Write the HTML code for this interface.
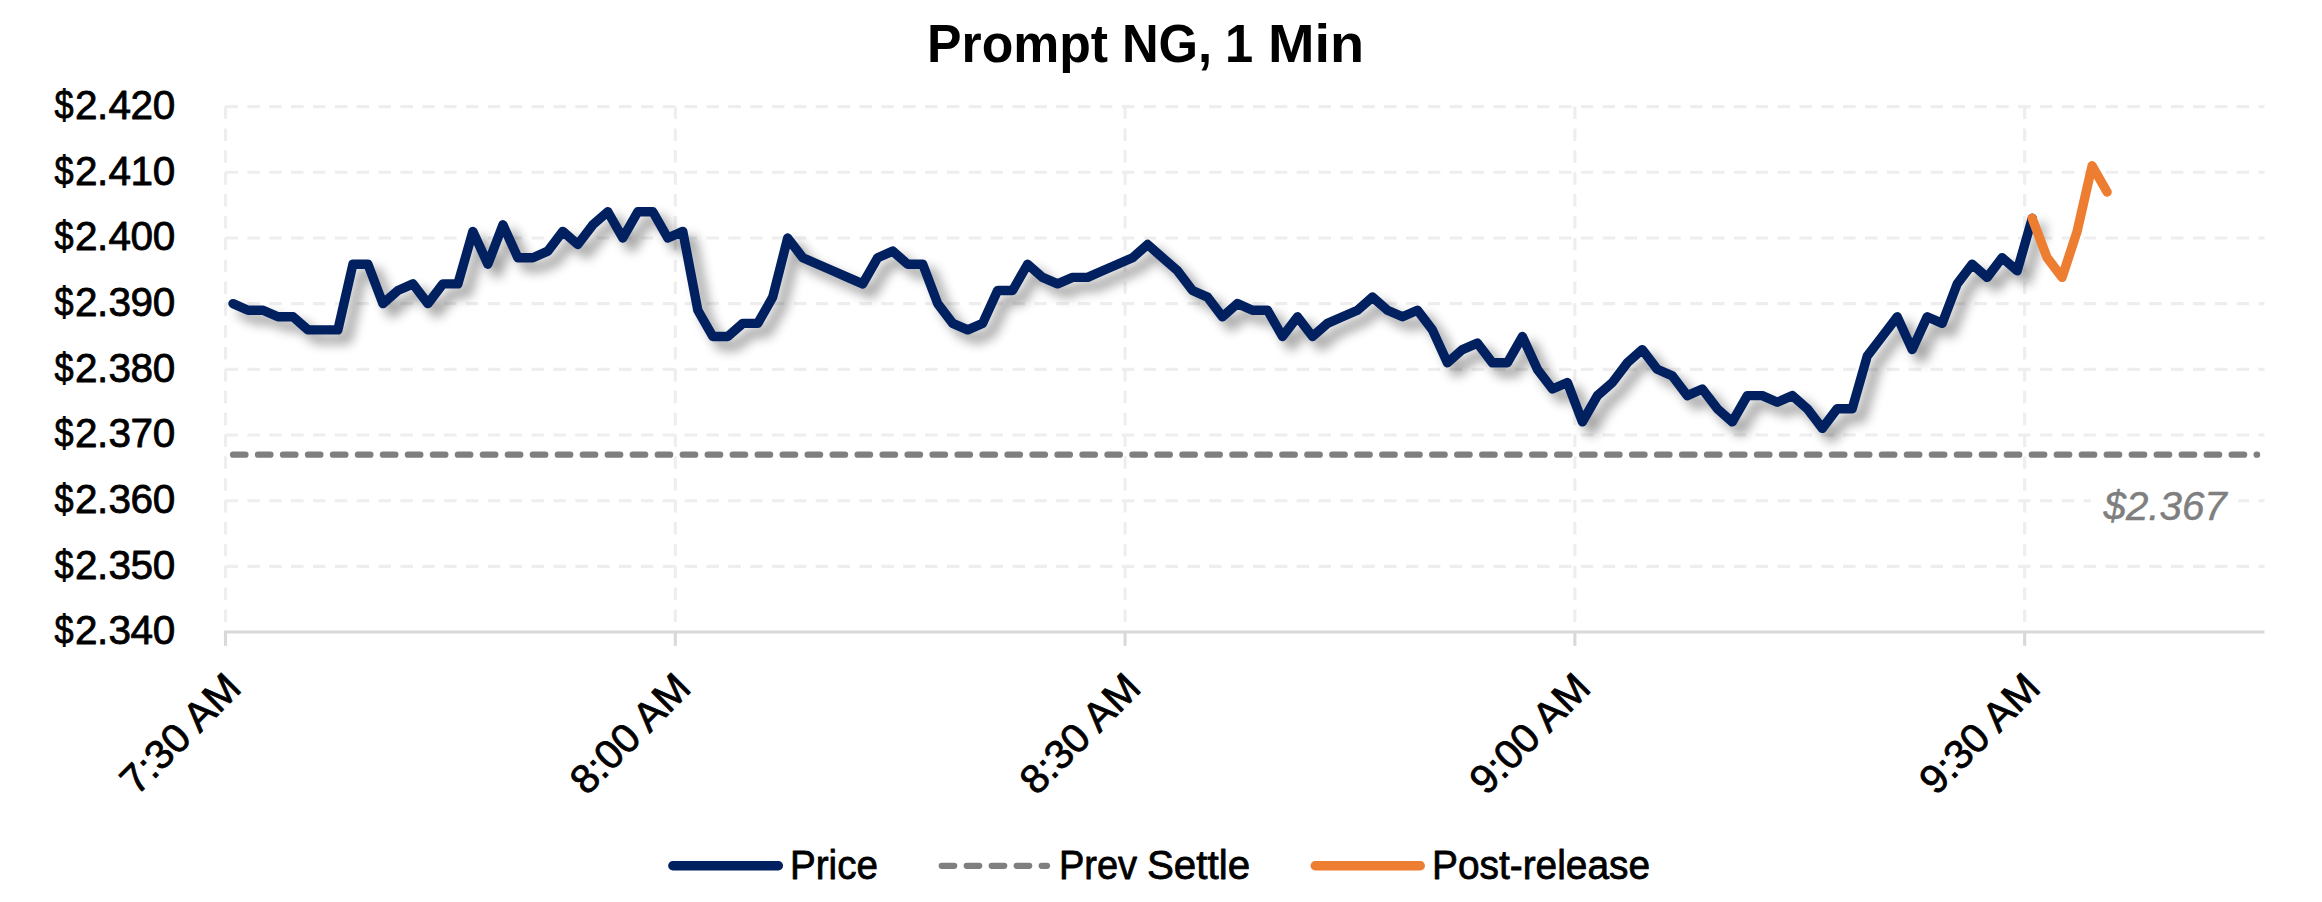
<!DOCTYPE html>
<html lang="en">
<head>
<meta charset="utf-8">
<title>Prompt NG, 1 Min</title>
<style>
html,body{margin:0;padding:0;background:#fff;}
body{width:2322px;height:902px;overflow:hidden;}
svg{display:block;}
text{font-family:"Liberation Sans",sans-serif;fill:#000;}
.r{stroke:#000;stroke-width:0.8px;stroke-linejoin:round;}
.g{stroke:#7f7f7f;stroke-width:0.5px;stroke-linejoin:round;}
</style>
</head>
<body>
<svg width="2322" height="902" viewBox="0 0 2322 902">
<defs><filter id="sh" x="-2%" y="-20%" width="104%" height="140%" color-interpolation-filters="sRGB"><feGaussianBlur in="SourceAlpha" stdDeviation="6"/><feOffset dx="9.3" dy="9.3"/><feComponentTransfer><feFuncA type="linear" slope="0.4"/></feComponentTransfer></filter></defs>
<rect width="2322" height="902" fill="#fff"/>
<g stroke="#eeeeee" stroke-width="3.125" stroke-dasharray="12.5 9.36" fill="none">
<line x1="225.5" y1="566.37" x2="2264.5" y2="566.37"/>
<line x1="225.5" y1="500.69" x2="2264.5" y2="500.69"/>
<line x1="225.5" y1="435.01" x2="2264.5" y2="435.01"/>
<line x1="225.5" y1="369.33" x2="2264.5" y2="369.33"/>
<line x1="225.5" y1="303.65" x2="2264.5" y2="303.65"/>
<line x1="225.5" y1="237.97" x2="2264.5" y2="237.97"/>
<line x1="225.5" y1="172.29" x2="2264.5" y2="172.29"/>
<line x1="225.5" y1="106.61" x2="2264.5" y2="106.61"/>
<line x1="225.50" y1="106.61" x2="225.50" y2="632.05"/>
<line x1="675.29" y1="106.61" x2="675.29" y2="632.05"/>
<line x1="1125.08" y1="106.61" x2="1125.08" y2="632.05"/>
<line x1="1574.87" y1="106.61" x2="1574.87" y2="632.05"/>
<line x1="2024.66" y1="106.61" x2="2024.66" y2="632.05"/>
</g>
<g stroke="#d9d9d9" stroke-width="3.125" fill="none">
<line x1="223.9" y1="632.00" x2="2264.5" y2="632.00"/>
<line x1="225.50" y1="632.05" x2="225.50" y2="645.85"/>
<line x1="675.29" y1="632.05" x2="675.29" y2="645.85"/>
<line x1="1125.08" y1="632.05" x2="1125.08" y2="645.85"/>
<line x1="1574.87" y1="632.05" x2="1574.87" y2="645.85"/>
<line x1="2024.66" y1="632.05" x2="2024.66" y2="645.85"/>
</g>
<line x1="233.0" y1="454.71" x2="2257.1" y2="454.71" stroke="#7f7f7f" stroke-width="6.25" stroke-linecap="round" stroke-dasharray="12.5 12.483"/>
<polyline filter="url(#sh)" points="233.0,303.6 248.0,310.2 263.0,310.2 278.0,316.8 293.0,316.8 308.0,329.9 323.0,329.9 337.9,329.9 352.9,264.2 367.9,264.2 382.9,303.6 397.9,290.5 412.9,283.9 427.9,303.6 442.9,283.9 457.9,283.9 472.9,231.4 487.9,264.2 502.9,224.8 517.9,257.7 532.9,257.7 547.8,251.1 562.8,231.4 577.8,244.5 592.8,224.8 607.8,211.7 622.8,238.0 637.8,211.7 652.8,211.7 667.8,238.0 682.8,231.4 697.8,310.2 712.8,336.5 727.8,336.5 742.8,323.4 757.8,323.4 772.7,297.1 787.7,238.0 802.7,257.7 817.7,264.2 832.7,270.8 847.7,277.4 862.7,283.9 877.7,257.7 892.7,251.1 907.7,264.2 922.7,264.2 937.7,303.6 952.7,323.4 967.7,329.9 982.6,323.4 997.6,290.5 1012.6,290.5 1027.6,264.2 1042.6,277.4 1057.6,283.9 1072.6,277.4 1087.6,277.4 1102.6,270.8 1117.6,264.2 1132.6,257.7 1147.6,244.5 1162.6,257.7 1177.6,270.8 1192.5,290.5 1207.5,297.1 1222.5,316.8 1237.5,303.6 1252.5,310.2 1267.5,310.2 1282.5,336.5 1297.5,316.8 1312.5,336.5 1327.5,323.4 1342.5,316.8 1357.5,310.2 1372.5,297.1 1387.5,310.2 1402.5,316.8 1417.4,310.2 1432.4,329.9 1447.4,362.8 1462.4,349.6 1477.4,343.1 1492.4,362.8 1507.4,362.8 1522.4,336.5 1537.4,369.3 1552.4,389.0 1567.4,382.5 1582.4,421.9 1597.4,395.6 1612.4,382.5 1627.3,362.8 1642.3,349.6 1657.3,369.3 1672.3,375.9 1687.3,395.6 1702.3,389.0 1717.3,408.7 1732.3,421.9 1747.3,395.6 1762.3,395.6 1777.3,402.2 1792.3,395.6 1807.3,408.7 1822.3,428.4 1837.2,408.7 1852.2,408.7 1867.2,356.2 1882.2,336.5 1897.2,316.8 1912.2,349.6 1927.2,316.8 1942.2,323.4 1957.2,283.9 1972.2,264.2 1987.2,277.4 2002.2,257.7 2017.2,270.8 2032.2,218.3" fill="none" stroke="#000" stroke-width="9.375" stroke-linecap="round" stroke-linejoin="round"/>
<polyline points="233.0,303.6 248.0,310.2 263.0,310.2 278.0,316.8 293.0,316.8 308.0,329.9 323.0,329.9 337.9,329.9 352.9,264.2 367.9,264.2 382.9,303.6 397.9,290.5 412.9,283.9 427.9,303.6 442.9,283.9 457.9,283.9 472.9,231.4 487.9,264.2 502.9,224.8 517.9,257.7 532.9,257.7 547.8,251.1 562.8,231.4 577.8,244.5 592.8,224.8 607.8,211.7 622.8,238.0 637.8,211.7 652.8,211.7 667.8,238.0 682.8,231.4 697.8,310.2 712.8,336.5 727.8,336.5 742.8,323.4 757.8,323.4 772.7,297.1 787.7,238.0 802.7,257.7 817.7,264.2 832.7,270.8 847.7,277.4 862.7,283.9 877.7,257.7 892.7,251.1 907.7,264.2 922.7,264.2 937.7,303.6 952.7,323.4 967.7,329.9 982.6,323.4 997.6,290.5 1012.6,290.5 1027.6,264.2 1042.6,277.4 1057.6,283.9 1072.6,277.4 1087.6,277.4 1102.6,270.8 1117.6,264.2 1132.6,257.7 1147.6,244.5 1162.6,257.7 1177.6,270.8 1192.5,290.5 1207.5,297.1 1222.5,316.8 1237.5,303.6 1252.5,310.2 1267.5,310.2 1282.5,336.5 1297.5,316.8 1312.5,336.5 1327.5,323.4 1342.5,316.8 1357.5,310.2 1372.5,297.1 1387.5,310.2 1402.5,316.8 1417.4,310.2 1432.4,329.9 1447.4,362.8 1462.4,349.6 1477.4,343.1 1492.4,362.8 1507.4,362.8 1522.4,336.5 1537.4,369.3 1552.4,389.0 1567.4,382.5 1582.4,421.9 1597.4,395.6 1612.4,382.5 1627.3,362.8 1642.3,349.6 1657.3,369.3 1672.3,375.9 1687.3,395.6 1702.3,389.0 1717.3,408.7 1732.3,421.9 1747.3,395.6 1762.3,395.6 1777.3,402.2 1792.3,395.6 1807.3,408.7 1822.3,428.4 1837.2,408.7 1852.2,408.7 1867.2,356.2 1882.2,336.5 1897.2,316.8 1912.2,349.6 1927.2,316.8 1942.2,323.4 1957.2,283.9 1972.2,264.2 1987.2,277.4 2002.2,257.7 2017.2,270.8 2032.2,218.3" fill="none" stroke="#002060" stroke-width="9.375" stroke-linecap="round" stroke-linejoin="round"/>
<polyline points="2032.2,218.3 2047.1,257.7 2062.1,277.4 2077.1,231.4 2092.1,165.7 2107.1,192.0" fill="none" stroke="#ed7d31" stroke-width="9.375" stroke-linecap="round" stroke-linejoin="round"/>
<rect x="2091.1" y="478" width="147.1" height="56" fill="#fff"/>
<text x="2103.6" y="520.1" font-size="40.5" textLength="123.1" lengthAdjust="spacingAndGlyphs" class="g" font-style="italic" style="fill:#7f7f7f">$2.367</text>
<text y="62" font-size="53.2" font-weight="bold"><tspan x="927.1" textLength="181.0" lengthAdjust="spacingAndGlyphs">Prompt</tspan> <tspan x="1121.9" textLength="90.2" lengthAdjust="spacingAndGlyphs">NG,</tspan> <tspan x="1224.9" textLength="28.2" lengthAdjust="spacingAndGlyphs">1</tspan> <tspan x="1267.9" textLength="96.1" lengthAdjust="spacingAndGlyphs">Min</tspan></text>
<text class="r" y="644.2" font-size="40.5"><tspan x="54.4" textLength="19.1" lengthAdjust="spacingAndGlyphs">$</tspan><tspan x="75.0 97.0 108.4 130.4 152.7">2.340</tspan></text>
<text class="r" y="578.6" font-size="40.5"><tspan x="54.4" textLength="19.1" lengthAdjust="spacingAndGlyphs">$</tspan><tspan x="75.0 97.0 108.4 130.4 152.7">2.350</tspan></text>
<text class="r" y="512.9" font-size="40.5"><tspan x="54.4" textLength="19.1" lengthAdjust="spacingAndGlyphs">$</tspan><tspan x="75.0 97.0 108.4 130.4 152.7">2.360</tspan></text>
<text class="r" y="447.2" font-size="40.5"><tspan x="54.4" textLength="19.1" lengthAdjust="spacingAndGlyphs">$</tspan><tspan x="75.0 97.0 108.4 130.4 152.7">2.370</tspan></text>
<text class="r" y="381.5" font-size="40.5"><tspan x="54.4" textLength="19.1" lengthAdjust="spacingAndGlyphs">$</tspan><tspan x="75.0 97.0 108.4 130.4 152.7">2.380</tspan></text>
<text class="r" y="315.8" font-size="40.5"><tspan x="54.4" textLength="19.1" lengthAdjust="spacingAndGlyphs">$</tspan><tspan x="75.0 97.0 108.4 130.4 152.7">2.390</tspan></text>
<text class="r" y="250.2" font-size="40.5"><tspan x="54.4" textLength="19.1" lengthAdjust="spacingAndGlyphs">$</tspan><tspan x="75.0 97.0 108.4 130.4 152.7">2.400</tspan></text>
<text class="r" y="184.5" font-size="40.5"><tspan x="54.4" textLength="19.1" lengthAdjust="spacingAndGlyphs">$</tspan><tspan x="75.0 97.0 108.4 130.4 152.7">2.410</tspan></text>
<text class="r" y="118.8" font-size="40.5"><tspan x="54.4" textLength="19.1" lengthAdjust="spacingAndGlyphs">$</tspan><tspan x="75.0 97.0 108.4 130.4 152.7">2.420</tspan></text>
<text class="r" transform="translate(243.2 690.2) rotate(-45)" font-size="40.5" text-anchor="end" textLength="150.4" lengthAdjust="spacingAndGlyphs">7:30 AM</text>
<text class="r" transform="translate(693.0 690.2) rotate(-45)" font-size="40.5" text-anchor="end" textLength="150.4" lengthAdjust="spacingAndGlyphs">8:00 AM</text>
<text class="r" transform="translate(1142.8 690.2) rotate(-45)" font-size="40.5" text-anchor="end" textLength="150.4" lengthAdjust="spacingAndGlyphs">8:30 AM</text>
<text class="r" transform="translate(1592.6 690.2) rotate(-45)" font-size="40.5" text-anchor="end" textLength="150.4" lengthAdjust="spacingAndGlyphs">9:00 AM</text>
<text class="r" transform="translate(2042.4 690.2) rotate(-45)" font-size="40.5" text-anchor="end" textLength="150.4" lengthAdjust="spacingAndGlyphs">9:30 AM</text>
<line x1="672.8" y1="865.8" x2="778.4" y2="865.8" stroke="#002060" stroke-width="9.375" stroke-linecap="round"/>
<line x1="941.7" y1="865.8" x2="1047" y2="865.8" stroke="#7f7f7f" stroke-width="6.25" stroke-linecap="round" stroke-dasharray="12.5 12.5"/>
<line x1="1315.2" y1="865.8" x2="1420.3" y2="865.8" stroke="#ed7d31" stroke-width="9.375" stroke-linecap="round"/>
<text x="790.0" y="878.9" font-size="40.5" textLength="88.0" lengthAdjust="spacingAndGlyphs" class="r">Price</text>
<text class="r" y="878.9" font-size="40.5"><tspan x="1058.9" textLength="78.2" lengthAdjust="spacingAndGlyphs">Prev</tspan> <tspan x="1146.9" textLength="103.2" lengthAdjust="spacingAndGlyphs">Settle</tspan></text>
<text x="1432.0" y="878.9" font-size="40.5" textLength="218.1" lengthAdjust="spacingAndGlyphs" class="r">Post-release</text>
</svg>
</body>
</html>
